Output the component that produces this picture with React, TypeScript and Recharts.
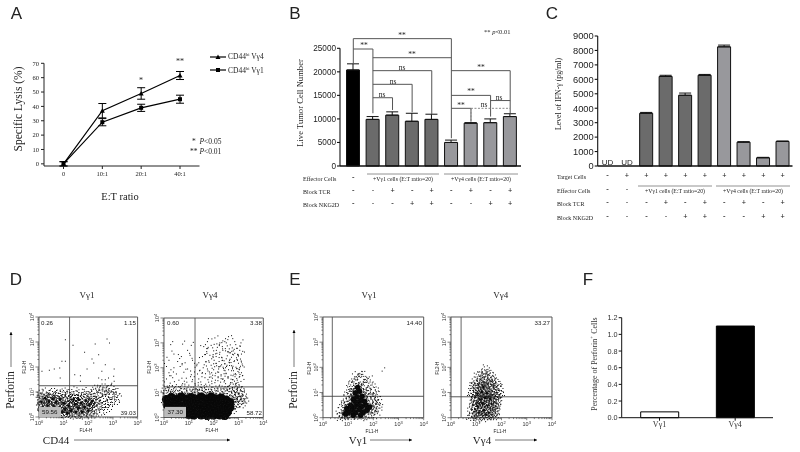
import React from "react";
import {
  ComposedChart, BarChart, ScatterChart, Line, Bar, Scatter, XAxis, YAxis, ErrorBar, Cell, Legend,
  ReferenceLine, ReferenceArea, ReferenceDot,
} from "recharts";

const SERIF = "'Liberation Serif', serif";
const SANS = "'Liberation Sans', sans-serif";

// Panel A
const ratios = ["0", "10:1", "20:1", "40:1"];
const lysisV4 = [0, 37, 49, 61.5];
const lysisV4Err = [1.5, 5, 4, 2.8];
const lysisV1 = [0, 29, 39, 45];
const lysisV1Err = [1.5, 2.5, 2.5, 2.8];
const lysisTicks = [0, 10, 20, 30, 40, 50, 60, 70];

// Panel B
const bCats = ["control", "a1", "a2", "a3", "a4", "b1", "b2", "b3", "b4"];
const bValues = [20400, 9900, 10800, 9500, 9900, 5000, 9100, 9200, 10500];
const bErrors = [1300, 600, 700, 1700, 1100, 500, 100, 800, 600];
const bEffector = ["-", "", "", "", "", "", "", "", ""];
const bTcr = ["-", "-", "+", "-", "+", "-", "+", "-", "+"];
const bNkg = ["-", "-", "-", "+", "+", "-", "-", "+", "+"];
const bTicks = [0, 5000, 10000, 15000, 20000, 25000];
// from, to, level, left drop end, right drop end
const bBrackets: [string, string, number, number | null, number | null][] = [
  ["control", "b1", 27050, 21800, 5900],
  ["control", "a1", 24850, null, 11200],
  ["a1", "b1", 23000, null, null],
  ["a1", "a4", 20250, null, 11000],
  ["a1", "a3", 17350, null, 11400],
  ["a1", "a2", 14500, null, 11900],
  ["b1", "b4", 20250, null, 11200],
  ["b1", "b3", 15000, null, 10500],
  ["b1", "b2", 12250, null, 9400],
  ["b3", "b4", 13900, null, null],
];
const bDashed: [string, string, number, number | null, number | null][] = [
  ["b2", "b4", 12250, 9400, null],
];

// Panel C
const cCats = ["t0", "t1", "a1", "a2", "a3", "a4", "b1", "b2", "b3", "b4"];
const cValues = [0, 0, 3650, 6200, 4900, 6280, 8250, 1650, 570, 1700];
const cErrors = [0, 0, 60, 80, 150, 60, 120, 30, 30, 30];
const cUndetected = ["t0", "t1"];
const cTarget = ["-", "+", "+", "+", "+", "+", "+", "+", "+", "+"];
const cEffector = ["-", "-", "", "", "", "", "", "", "", ""];
const cTcr = ["-", "-", "-", "+", "-", "+", "-", "+", "-", "+"];
const cNkg = ["-", "-", "-", "-", "+", "+", "-", "-", "+", "+"];
const cTicks = [0, 1000, 2000, 3000, 4000, 5000, 6000, 7000, 8000, 9000];

// Panel F
const fCats = ["Vγ1", "Vγ4"];
const fValues = [0.07, 1.1];
const fTicks = [0, 0.2, 0.4, 0.6, 0.8, 1.0, 1.2];

// Flow plots: log10 of fluorescence, estimated by eye
const logTicks = [0, 1, 2, 3, 4];
const d1Core = [
  [0.1,0.6],[0.25,0.75],[0.4,0.62],[0.55,0.72],[0.7,0.6],[0.85,0.7],[1.0,0.55],[0.15,0.4],[0.35,0.45],[0.6,0.42],
  [0.85,0.38],[1.05,0.3],[1.2,0.45],[1.3,0.25],[1.45,0.5],[1.5,0.2],[1.6,0.35],[1.7,0.55],[1.75,0.2],[1.85,0.4],
  [1.9,0.65],[2.0,0.25],[2.05,0.5],[1.6,0.7],[1.4,0.7],[2.15,0.62],[1.15,0.15],[0.95,0.18],
];
const d1Speckle = [
  [1.07,3.09],[1.38,2.87],[2.28,2.92],[2.76,3.12],[2.86,2.96],[1.85,2.59],[2.42,2.49],[2.15,2.32],[2.22,2.16],[0.93,2.23],
  [1.07,2.23],[2.69,2.09],[1.95,1.92],[3.05,1.92],[2.55,1.83],[0.12,1.83],[0.42,1.87],[0.62,1.92],[0.84,1.96],[1.45,1.69],
  [1.68,1.65],[2.42,1.56],[2.55,1.49],[2.69,1.49],[2.82,1.56],[3.03,1.63],[3.05,1.43],[0.86,1.56],[1.68,1.43],[2.95,1.35],
  [2.3,1.15],[2.45,1.08],[2.6,1.2],[2.72,1.05],[2.85,1.14],[3.0,1.1],[3.12,0.98],[2.25,0.95],[2.4,0.85],[2.55,0.95],
  [2.7,0.88],[2.85,0.93],[3.0,0.82],[3.18,0.8],[2.3,0.7],[2.48,0.66],[2.62,0.74],[2.78,0.66],[2.94,0.6],[3.1,0.62],
  [2.35,0.48],[2.52,0.42],[2.68,0.5],[2.82,0.38],[2.3,0.28],[2.46,0.2],[2.62,0.26],
  [2.2,0.12],[0.05,0.95],[0.3,1.0],[0.55,1.02],[0.78,0.96],[1.02,1.0],[1.25,0.98],
  [1.5,1.05],[1.72,0.95],[1.95,1.02],[2.1,0.9],[0.2,0.88],[0.45,0.9],[0.7,0.86],[0.95,0.9],[1.2,0.85],[1.45,0.88],
  [1.7,0.86],[1.95,0.84],[2.15,0.8],[0.12,0.22],[0.32,0.2],[1.0,0.72],[1.1,0.62],[1.25,0.58],[1.55,0.6],[1.8,0.08],
  [1.35,0.08],[1.62,0.06],[2.1,0.08],[0.05,0.75],[0.48,0.78],[0.78,0.82],[1.3,0.74],[2.28,0.58],[2.2,0.38],[2.12,0.2],
];
const d2Core = [
  [0.1,0.72],[0.3,0.8],[0.5,0.72],[0.7,0.82],[0.9,0.74],[1.1,0.8],[1.3,0.72],[1.5,0.82],[1.7,0.74],[1.9,0.82],
  [2.1,0.74],[2.3,0.78],[2.5,0.7],[2.65,0.6],[0.15,0.5],[0.4,0.52],[0.65,0.48],[0.9,0.5],[1.15,0.5],[1.4,0.52],
  [1.65,0.5],[1.9,0.52],[2.15,0.5],[2.4,0.48],[2.65,0.4],[0.9,0.28],[1.1,0.26],[1.35,0.28],[1.6,0.28],[1.85,0.26],
  [2.1,0.28],[2.35,0.26],[2.55,0.22],[1.2,0.1],[1.5,0.1],[1.75,0.08],[2.0,0.1],[2.25,0.1],[2.45,0.08],[1.0,0.12],
];
const d2Speckle = [
  [2.6,3.25],[2.05,3.2],[1.75,3.05],[2.25,3.0],[2.45,3.05],[2.85,3.05],[3.1,3.0],[1.6,2.85],[1.9,2.9],[2.15,2.82],
  [2.35,2.85],[2.55,2.88],[2.75,2.8],[2.95,2.78],[3.05,2.7],[1.72,2.65],[2.0,2.68],[2.25,2.62],[2.48,2.68],[2.68,2.6],
  [2.85,2.58],[3.12,2.55],[1.55,2.45],[1.85,2.5],[2.1,2.45],[2.32,2.42],[2.55,2.48],[2.72,2.42],[2.92,2.4],[3.08,2.35],
  [1.8,2.28],[2.02,2.3],[2.22,2.25],[2.42,2.28],[2.62,2.22],[2.82,2.25],[3.0,2.18],[3.15,2.15],[1.62,2.12],[1.9,2.1],
  [2.12,2.08],[2.32,2.12],[2.52,2.05],[2.72,2.08],[2.9,2.02],[3.05,2.0],[1.75,1.95],[2.0,1.92],[2.2,1.95],[2.42,1.9],
  [2.6,1.92],[2.8,1.88],[2.98,1.85],[3.12,1.8],[1.55,1.8],[1.85,1.75],[2.08,1.78],[2.3,1.72],[2.5,1.76],[2.7,1.7],
  [2.9,1.72],[3.05,1.65],[1.65,1.6],[1.95,1.58],[2.18,1.6],[2.38,1.55],[2.58,1.58],[2.78,1.52],[2.95,1.5],[3.1,1.45],
  [1.8,1.42],[2.05,1.4],[2.28,1.42],[2.48,1.36],[2.68,1.4],[2.88,1.34],[3.02,1.32],[0.35,3.05],[0.75,2.95],[1.1,2.9],
  [0.95,2.7],[0.4,2.55],[0.7,2.45],[1.05,2.5],[0.2,2.3],[0.55,2.25],[0.85,2.2],[1.15,2.3],[1.4,2.2],[0.1,2.05],
  [0.4,2.0],[0.65,2.05],[0.95,1.95],[1.25,2.02],[1.45,1.9],[0.2,1.8],[0.5,1.75],[0.8,1.82],[1.1,1.72],[1.35,1.75],
  [0.1,1.55],[0.35,1.6],[0.6,1.5],[0.9,1.58],[1.15,1.52],[1.4,1.55],[0.25,1.38],[0.5,1.32],[0.75,1.36],[1.0,1.3],
  [1.25,1.36],[1.5,1.32],[0.05,1.1],[0.3,1.12],[0.55,1.08],[0.8,1.14],[1.05,1.1],[1.3,1.14],[1.55,1.08],[1.8,1.14],
  [2.05,1.1],[2.3,1.14],[2.5,1.08],[2.75,1.18],[2.95,1.15],[3.1,1.08],[0.15,1.0],[0.45,0.98],[0.75,1.0],[1.0,0.98],
  [1.25,1.0],[1.5,0.98],[1.75,1.0],[2.0,1.0],[2.25,0.98],[2.5,0.96],[2.72,1.0],[2.85,0.92],[3.0,0.96],[3.2,0.9],
  [2.82,0.8],[2.95,0.78],[3.1,0.72],[3.25,0.7],[2.85,0.62],[3.0,0.6],[3.15,0.55],[2.82,0.44],
  [2.75,0.28],[0.55,0.28],[0.7,0.2],
];
const e1Core = [
  [1.0,0.2],[1.15,0.3],[1.3,0.2],[1.45,0.32],[1.6,0.22],[1.75,0.3],[0.95,0.36],[1.1,0.48],[1.25,0.42],[1.4,0.52],
  [1.55,0.45],[1.7,0.5],[1.85,0.42],[1.3,0.62],[1.5,0.68],[1.65,0.65],[1.2,0.72],[1.35,0.82],[1.55,0.85],[1.28,0.98],
  [1.45,1.05],[1.38,1.2],[0.9,0.15],[1.2,0.1],[1.5,0.1],
];
const e1Speckle = [
  [1.4,1.75],[1.25,1.62],[1.5,1.6],[1.35,1.5],[1.62,1.52],[1.18,1.42],[1.48,1.42],[1.72,1.4],[1.1,1.3],[1.22,1.28],
  [1.55,1.28],[1.78,1.25],[1.95,1.3],[1.02,1.12],[1.2,1.12],[1.6,1.15],[1.75,1.08],[1.92,1.12],[2.08,1.1],[0.98,0.98],
  [1.12,0.92],[1.65,0.98],[1.82,0.95],[2.0,0.98],[2.15,0.92],[0.92,0.78],[1.05,0.82],[1.75,0.8],[1.9,0.82],[2.05,0.78],
  [2.2,0.72],[0.85,0.62],[1.0,0.65],[1.85,0.66],[2.0,0.62],[2.12,0.58],[2.25,0.6],[0.78,0.48],[0.88,0.52],[2.0,0.45],
  [2.12,0.42],[2.22,0.38],[0.72,0.32],[0.82,0.3],[1.95,0.3],[2.08,0.28],[2.18,0.22],[0.68,0.18],[0.78,0.12],[1.9,0.14],
  [2.05,0.12],[0.65,0.05],[0.85,0.04],[1.1,0.03],[1.4,0.03],[1.7,0.04],[1.88,1.5],[1.58,1.72],
];
const e1Stray = [[2.35,1.85],[2.45,1.98]];
const e2Core = [
  [1.1,0.2],[1.3,0.3],[1.5,0.2],[1.05,0.45],[1.25,0.55],[1.45,0.48],[1.6,0.55],[1.15,0.72],[1.35,0.78],[1.55,0.75],
  [1.05,0.95],[1.22,1.02],[1.42,0.98],[1.28,1.22],[1.4,0.12],
];
const e2Speckle = [
  [1.4,1.9],[1.25,1.78],[1.5,1.72],[1.12,1.65],[1.35,1.62],[1.6,1.62],[1.0,1.5],[1.2,1.48],[1.42,1.5],[1.65,1.48],
  [1.78,1.4],[0.95,1.35],[1.1,1.32],[1.48,1.35],[1.62,1.3],[1.85,1.28],[0.9,1.2],[1.08,1.18],[1.5,1.18],[1.7,1.15],
  [1.9,1.12],[0.9,1.05],[1.62,1.08],[1.8,1.02],[0.85,0.92],[1.62,0.92],[1.75,0.88],[1.92,0.92],[0.92,0.8],[1.72,0.78],
  [1.85,0.72],[0.88,0.65],[1.0,0.62],[1.72,0.62],[1.85,0.58],[0.85,0.5],[0.95,0.35],[1.72,0.42],[1.82,0.38],[0.82,0.3],
  [1.68,0.3],[1.78,0.24],[0.85,0.18],[0.95,0.1],[1.62,0.12],[1.72,0.08],[0.82,0.05],[1.02,0.03],[1.25,0.04],[1.5,0.04],
  [1.2,0.12],[1.2,0.4],[1.38,0.64],[1.12,0.58],[1.5,0.88],[1.3,0.92],[1.15,0.85],[1.35,1.1],[1.2,1.3],[1.4,1.42],
];

const toXY = (pairs: number[][]) => pairs.map(([x, y]) => ({ x, y }));

type TProps = { x: number; y: number; children: React.ReactNode; size?: number; font?: string; rot?: boolean; anchor?: "c" | "l" | "r"; color?: string; bold?: boolean; bg?: string };
function T({ x, y, children, size = 7, font = SERIF, rot, anchor = "c", color = "#222", bold, bg }: TProps) {
  const tx = anchor === "c" ? "-50%" : anchor === "l" ? "0" : "-100%";
  return (
    <div style={{ position: "absolute", left: x, top: y, transform: `translate(${tx},-50%)${rot ? " rotate(-90deg)" : ""}`, fontSize: size, fontFamily: font, color, whiteSpace: "nowrap", lineHeight: 1, fontWeight: bold ? 700 : 400, background: bg }}>
      {children}
    </div>
  );
}

const pos = (left: number, top: number): React.CSSProperties => ({ position: "absolute", left, top });

function rowTick(rows: string[][], offsets: number[], cats: string[]) {
  return (p: any) => {
    const i = cats.indexOf(p.payload.value);
    return (
      <g>
        {rows.map((r, k) => (
          <text key={k} x={p.x} y={p.y + offsets[k]} textAnchor="middle" fontSize={7.5} fontWeight={700} fontFamily={SERIF} fill="#222">{r[i]}</text>
        ))}
      </g>
    );
  };
}

const Triangle = (p: any) => <path d={`M${p.cx - 2.5},${p.cy + 2} L${p.cx + 2.5},${p.cy + 2} L${p.cx},${p.cy - 2.5} Z`} fill="#000" />;
const Square = (p: any) => <rect x={p.cx - 2} y={p.cy - 2} width={4} height={4} fill="#000" />;

function bracketLines(list: typeof bBrackets, color: string, dash?: string) {
  const out: React.ReactNode[] = [];
  list.forEach(([a, b, lv, dl, dr], i) => {
    out.push(<ReferenceLine key={`${dash}h${i}`} ifOverflow="visible" stroke={color} strokeWidth={1} strokeDasharray={dash} segment={[{ x: a, y: lv }, { x: b, y: lv }]} />);
    if (dl !== null) out.push(<ReferenceLine key={`${dash}l${i}`} ifOverflow="visible" stroke={color} strokeWidth={1} strokeDasharray={dash} segment={[{ x: a, y: lv }, { x: a, y: dl }]} />);
    if (dr !== null) out.push(<ReferenceLine key={`${dash}r${i}`} ifOverflow="visible" stroke={color} strokeWidth={1} strokeDasharray={dash} segment={[{ x: b, y: lv }, { x: b, y: dr }]} />);
  });
  return out;
}

const LegendBox = (p: any) => (
  <div style={{ fontFamily: SERIF, fontSize: 7.5, color: "#222" }}>
    {(p.payload || []).map((e: any, i: number) => {
      const [a, b] = String(e.value).split("hi");
      return (
        <div key={i} style={{ display: "flex", alignItems: "center", height: 13.5 }}>
          <svg width={17} height={8} style={{ marginRight: 1 }}>
            <line x1={0} x2={16} y1={4} y2={4} stroke="#000" strokeWidth={1.2} />
            {i === 0 ? <path d="M5.5,6 L10.5,6 L8,1.5 Z" fill="#000" /> : <rect x={6} y={2} width={4} height={4} fill="#000" />}
          </svg>
          <span>{a}<sup style={{ fontSize: 4.5, lineHeight: 0 }}>hi</sup>{b}</span>
        </div>
      );
    })}
  </div>
);

function LogTick(props: any) {
  const { x, y, payload, vertical, decade } = props;
  const v = payload.value;
  const minors = v < 4 ? [2, 3, 4, 5, 6, 7, 8, 9] : [];
  if (vertical) {
    return (
      <g stroke="#333" strokeWidth={0.6}>
        <line x1={x - 3.5} x2={x} y1={y} y2={y} />
        {minors.map((m) => <line key={m} x1={x - 1.6} x2={x} y1={y - Math.log10(m) * decade} y2={y - Math.log10(m) * decade} />)}
        <text x={0} y={0} transform={`translate(${x - 5},${y}) rotate(-90)`} textAnchor="middle" fontSize={5.5} fontFamily={SANS} fill="#333" stroke="none">
          10<tspan dy={-2} fontSize={4}>{v}</tspan>
        </text>
      </g>
    );
  }
  return (
    <g stroke="#333" strokeWidth={0.6}>
      <line x1={x} x2={x} y1={y} y2={y + 2.5} />
      {minors.map((m) => <line key={m} x1={x + Math.log10(m) * decade} x2={x + Math.log10(m) * decade} y1={y} y2={y + 1.4} />)}
      <text x={x} y={y + 8} textAnchor="middle" fontSize={5.5} fontFamily={SANS} fill="#333" stroke="none">
        10<tspan dy={-2} fontSize={4}>{v}</tspan>
      </text>
    </g>
  );
}

// one plotted estimate stands for a small group of events, drawn as a stipple of single pixels
const stipple = [
  [0,0],[3,-2],[-3,1],[-1,3],[2,3],[-4,-2],[1,-4],[4,1],[-2,-4],[-5,1],[5,-3],[-1,-1],
  [2,0],[-3,4],[4,4],[0,-2],[-2,2],[3,-5],[-5,-4],[1,2],[-4,3],[5,2],[-1,5],[2,-3],
];
const glyph = (n: number, r = 0) => (p: any) => {
  const s = (Math.round(p.cx * 3) + Math.round(p.cy * 5)) % 8;
  const fx = s & 1 ? -1 : 1, fy = s & 2 ? -1 : 1, swap = s & 4;
  return (
    <g fill="#111">
      {r > 0 && <circle cx={p.cx} cy={p.cy} r={r} fill="#080808" />}
      {stipple.slice(0, n).map(([a, b], i) => (
        <rect key={i} x={p.cx + fx * (swap ? b : a) - 0.5} y={p.cy + fy * (swap ? a : b) - 0.5} width={1} height={1} />
      ))}
    </g>
  );
};

type FlowProps = { x0: number; x1: number; y0: number; y1: number; gateX: number; gateY: number; core: number[][]; speckle: number[][]; stray?: number[][]; coreN: number; coreR: number; lowN: number; highN: number; sparseX?: number };
function Flow({ x0, x1, y0, y1, gateX, gateY, core, speckle, stray = [], coreN, coreR, lowN, highN, sparseX = 0 }: FlowProps) {
  const w = x1 - x0, h = y1 - y0;
  return (
    <div style={pos(x0 - 24, y0 - 4)}>
      <ScatterChart width={w + 30} height={h + 16} margin={{ top: 4, right: 6, left: 0, bottom: 0 }}>
        <XAxis type="number" dataKey="x" domain={[0, 4]} ticks={logTicks} height={12} tickLine={false} axisLine={false} tickSize={0} tickMargin={0} interval={0} tick={<LogTick decade={w / 4} />} />
        <YAxis type="number" dataKey="y" domain={[0, 4]} ticks={logTicks} width={24} tickLine={false} axisLine={false} tickSize={0} tickMargin={0} interval={0} tick={<LogTick vertical decade={h / 4} />} />
        <ReferenceArea x1={0} x2={4} y1={0} y2={4} fill="none" stroke="#555" strokeWidth={1} ifOverflow="visible" />
        <Scatter data={toXY(speckle.filter((p) => p[1] <= 1.22))} shape={glyph(lowN)} isAnimationActive={false} />
        <Scatter data={toXY(speckle.filter((p) => p[1] > 1.22 && p[0] >= sparseX))} shape={glyph(highN)} isAnimationActive={false} />
        <Scatter data={toXY(speckle.filter((p) => p[1] > 1.22 && p[0] < sparseX))} shape={glyph(2)} isAnimationActive={false} />
        <Scatter data={toXY(stray)} shape={glyph(1)} isAnimationActive={false} />
        <Scatter data={toXY(core)} shape={glyph(coreN, coreR)} isAnimationActive={false} />
        <ReferenceLine x={gateX} stroke="#555" strokeWidth={0.9} />
        <ReferenceLine y={gateY} stroke="#444" strokeWidth={0.9} />
      </ScatterChart>
    </div>
  );
}

const Arrow = ({ x1, y1, x2, y2 }: { x1: number; y1: number; x2: number; y2: number }) => {
  const vertical = x1 === x2;
  const head = vertical ? `${x2 - 1.5},${y2 + 3} ${x2 + 1.5},${y2 + 3} ${x2},${y2}` : `${x2 - 3},${y2 - 1.5} ${x2 - 3},${y2 + 1.5} ${x2},${y2}`;
  return (
    <g>
      <line x1={x1} y1={y1} x2={x2} y2={y2} stroke="#555" strokeWidth={0.8} />
      <polygon points={head} fill="#000" />
    </g>
  );
};

export default function App() {
  const aData = ratios.map((r, i) => ({ r, v4: lysisV4[i], e4: lysisV4Err[i], v1: lysisV1[i], e1: lysisV1Err[i] }));
  const bData = bCats.map((c, i) => ({ c, v: bValues[i], err: [0, bErrors[i]] }));
  const cData = cCats.map((c, i) => ({ c, v: cValues[i], err: [0, cErrors[i]] }));
  const fData = fCats.map((c, i) => ({ c, v: fValues[i] }));
  const bFill = (i: number) => (i === 0 ? "#000" : i < 5 ? "#6b6b6b" : "#98989c");
  const cFill = (i: number) => (i < 6 ? "#6b6b6b" : "#98989c");

  return (
    <div style={{ position: "absolute", left: 0, top: 0, width: 800, height: 452, background: "#fff", overflow: "hidden", filter: "blur(0.3px)" }}>
      {/* A */}
      <div style={pos(14, 50)}>
        <ComposedChart width={260} height={136} data={aData} margin={{ top: 13.3, right: 74.5, left: 0, bottom: 0 }}>
          <XAxis dataKey="r" height={20} padding={{ left: 19.5, right: 19.5 }} tick={{ fontSize: 6.5, fontFamily: SERIF, fill: "#222" }} tickSize={3} tickMargin={2} stroke="#222" interval={0} />
          <YAxis domain={[0, 70]} ticks={lysisTicks} width={30} interval={0} tick={{ fontSize: 6.5, fontFamily: SERIF, fill: "#222" }} tickSize={3} tickMargin={2} stroke="#222" />
          <Legend layout="vertical" align="center" verticalAlign="middle" itemSorter={null} content={<LegendBox />} wrapperStyle={{ left: 196, top: 0, width: 90 }} />
          <Line dataKey="v4" name="CD44hi Vγ4" stroke="#000" strokeWidth={1.2} dot={<Triangle />} isAnimationActive={false}>
            <ErrorBar dataKey="e4" width={4} stroke="#000" strokeWidth={1} />
          </Line>
          <Line dataKey="v1" name="CD44hi Vγ1" stroke="#000" strokeWidth={1.2} dot={<Square />} isAnimationActive={false}>
            <ErrorBar dataKey="e1" width={4} stroke="#000" strokeWidth={1} />
          </Line>
        </ComposedChart>
      </div>

      {/* B */}
      <div style={pos(300, 10)}>
        <BarChart width={231} height={205} data={bData} margin={{ top: 38.3, right: 10, left: 0, bottom: 0 }} barSize={13}>
          <XAxis dataKey="c" height={49} padding={{ left: 3.5, right: 1 }} tickLine={false} tickSize={0} tickMargin={0} interval={0} stroke="#111" strokeWidth={1.3} tick={rowTick([bEffector, bTcr, bNkg], [14, 27, 40], bCats)} />
          <YAxis domain={[0, 25000]} ticks={bTicks} width={40} interval={0} tick={{ fontSize: 8.2, fontFamily: SANS, fill: "#222" }} tickSize={3} tickMargin={1} stroke="#111" strokeWidth={1.1} />
          <Bar dataKey="v" stroke="#111" strokeWidth={1} isAnimationActive={false}>
            {bData.map((_, i) => <Cell key={i} fill={bFill(i)} />)}
            <ErrorBar dataKey="err" width={6} stroke="#111" strokeWidth={1} />
          </Bar>
          {bracketLines(bBrackets, "#555")}
          {bracketLines(bDashed, "#888", "2 1.5")}
        </BarChart>
      </div>

      {/* C */}
      <div style={pos(560, 20)}>
        <BarChart width={236} height={205} data={cData} margin={{ top: 16, right: 3.5, left: 0, bottom: 0 }} barSize={13}>
          <XAxis dataKey="c" height={59} tickLine={false} tickSize={0} tickMargin={0} interval={0} stroke="#111" strokeWidth={1.3} tick={rowTick([cTarget, cEffector, cTcr, cNkg], [12, 26, 39, 53], cCats)} />
          <YAxis domain={[0, 9000]} ticks={cTicks} width={37.7} interval={0} tick={{ fontSize: 9.3, fontFamily: SANS, fill: "#222" }} tickSize={3} tickMargin={1} stroke="#111" strokeWidth={1.1} />
          <Bar dataKey="v" stroke="#111" strokeWidth={1} isAnimationActive={false}>
            {cData.map((_, i) => <Cell key={i} fill={cFill(i)} />)}
            <ErrorBar dataKey="err" width={6} stroke="#111" strokeWidth={1} />
          </Bar>
          {cUndetected.map((c) => (
            <ReferenceDot key={c} x={c} y={0} r={0} ifOverflow="visible" stroke="none" label={{ value: "UD", position: "top", offset: 1, fontSize: 8, fontFamily: SANS, fill: "#222" }} />
          ))}
        </BarChart>
      </div>

      {/* F */}
      <div style={pos(590, 310)}>
        <BarChart width={185} height={125} data={fData} margin={{ top: 7.7, right: 2, left: 0, bottom: 0 }} barSize={38}>
          <XAxis dataKey="c" height={17.3} tick={{ fontSize: 8, fontFamily: SERIF, fill: "#333" }} tickSize={3} tickMargin={1} stroke="#111" />
          <YAxis domain={[0, 1.2]} ticks={fTicks} width={31.7} interval={0} tickFormatter={(v: number) => v.toFixed(1)} tick={{ fontSize: 7.3, fontFamily: SANS, fill: "#333" }} tickSize={3} tickMargin={1} stroke="#111" />
          <Bar dataKey="v" stroke="#000" strokeWidth={1} isAnimationActive={false}>
            <Cell fill="#fff" />
            <Cell fill="#000" />
          </Bar>
        </BarChart>
      </div>

      {/* Flow plots */}
      <Flow x0={38.7} x1={137.3} y0={317.3} y1={417.3} gateX={1.24} gateY={1.25} core={d1Core} speckle={d1Speckle} coreN={24} coreR={1.4} lowN={8} highN={1} />
      <Flow x0={164} x1={263.3} y0={317.8} y1={417.3} gateX={1.25} gateY={1.23} core={d2Core} speckle={d2Speckle} coreN={12} coreR={4.6} lowN={10} highN={3} sparseX={1.5} />
      <Flow x0={323.3} x1={424} y0={317.3} y1={418} gateX={0.37} gateY={0.85} core={e1Core} speckle={e1Speckle} stray={e1Stray} coreN={16} coreR={2.8} lowN={6} highN={6} />
      <Flow x0={450.7} x1={551.7} y0={317.3} y1={418} gateX={0.4} gateY={0.83} core={e2Core} speckle={e2Speckle} coreN={24} coreR={1.2} lowN={12} highN={12} />

      {/* annotation lines */}
      <svg width={800} height={452} style={{ position: "absolute", left: 0, top: 0, pointerEvents: "none" }}>
        <line x1={367} x2={439} y1={174} y2={174} stroke="#777" strokeWidth={0.8} />
        <line x1={444} x2={518} y1={174} y2={174} stroke="#777" strokeWidth={0.8} />
        <line x1={638} x2={712} y1={186} y2={186} stroke="#777" strokeWidth={0.8} />
        <line x1={716} x2={790} y1={186} y2={186} stroke="#777" strokeWidth={0.8} />
        <Arrow x1={11} y1={367} x2={11} y2={332} />
        <Arrow x1={74} y1={440} x2={230} y2={440} />
        <Arrow x1={294} y1={367} x2={294} y2={330} />
        <Arrow x1={370} y1={440} x2={412} y2={440} />
        <Arrow x1={495} y1={440} x2={537} y2={440} />
      </svg>

      {/* panel letters */}
      <T x={16.5} y={13} size={17} font={SANS}>A</T>
      <T x={295} y={13} size={17} font={SANS}>B</T>
      <T x={552} y={13} size={17} font={SANS}>C</T>
      <T x={16} y={279} size={17} font={SANS}>D</T>
      <T x={295} y={279} size={17} font={SANS}>E</T>
      <T x={588} y={279} size={17} font={SANS}>F</T>

      {/* A text */}
      <T x={19} y={109} size={11.5} rot>Specific Lysis (%)</T>
      <T x={120} y={197} size={10.5}>E:T ratio</T>
      <T x={141} y={81} size={8}>*</T>
      <T x={180} y={62} size={8}>**</T>
      <T x={192} y={142} size={7.5} anchor="l">*&nbsp;&nbsp;<i>P</i>&lt;0.05</T>
      <T x={190} y={152} size={7.5} anchor="l">**&nbsp;<i>P</i>&lt;0.01</T>

      {/* B text */}
      <T x={300} y={103} size={8.6} rot>Live Tumor Cell Number</T>
      <T x={484} y={32} size={6.5} anchor="l">** <i>p</i>&lt;0.01</T>
      <T x={402} y={36} size={7.5}>**</T>
      <T x={364} y={46} size={7.5}>**</T>
      <T x={412} y={55} size={7.5}>**</T>
      <T x={402} y={68} size={7.5}>ns</T>
      <T x={393} y={82} size={7.5}>ns</T>
      <T x={382} y={95} size={7.5}>ns</T>
      <T x={481} y={68} size={7.5}>**</T>
      <T x={471} y={92} size={7.5}>**</T>
      <T x={461} y={106} size={7.5}>**</T>
      <T x={484} y={105} size={7.5}>ns</T>
      <T x={499} y={98} size={7.5}>ns</T>
      <T x={303} y={179} size={6} anchor="l">Effector Cells</T>
      <T x={303} y={192} size={6} anchor="l">Block TCR</T>
      <T x={303} y={205} size={6} anchor="l">Block NKG2D</T>
      <T x={403} y={180} size={5.8}>+Vγ1 cells (E:T ratio=20)</T>
      <T x={481} y={180} size={5.8}>+Vγ4 cells (E:T ratio=20)</T>

      {/* C text */}
      <T x={559} y={94} size={7.8} rot>Level of IFN-γ (pg/ml)</T>
      <T x={557} y={177} size={6} anchor="l">Target Cells</T>
      <T x={557} y={191} size={6} anchor="l">Effector Cells</T>
      <T x={557} y={204} size={6} anchor="l">Block TCR</T>
      <T x={557} y={218} size={6} anchor="l">Block NKG2D</T>
      <T x={675} y={192} size={5.8}>+Vγ1 cells (E:T ratio=20)</T>
      <T x={753} y={192} size={5.8}>+Vγ4 cells (E:T ratio=20)</T>

      {/* D text */}
      <T x={87} y={295} size={9}>Vγ1</T>
      <T x={210} y={295} size={9}>Vγ4</T>
      <T x={11} y={390} size={11.5} rot>Perforin</T>
      <T x={56} y={440} size={11}>CD44</T>
      <T x={25} y={367} size={4.6} font={SANS} rot>FL2-H</T>
      <T x={150} y={367} size={4.6} font={SANS} rot>FL2-H</T>
      <T x={86} y={431} size={4.6} font={SANS}>FL4-H</T>
      <T x={212} y={431} size={4.6} font={SANS}>FL4-H</T>
      <T x={41} y={323} size={6.2} font={SANS} anchor="l">0.26</T>
      <T x={136} y={323} size={6.2} font={SANS} anchor="r">1.15</T>
      <T x={136} y={413} size={6.2} font={SANS} anchor="r">39.03</T>
      <T x={39} y={412} size={6.2} font={SANS} anchor="l" bg="#bcbcbc" color="#111"><span style={{ display: "inline-block", padding: "2px 3.5px 2px 3px" }}>59.56</span></T>
      <T x={167} y={323} size={6.2} font={SANS} anchor="l">0.60</T>
      <T x={262} y={323} size={6.2} font={SANS} anchor="r">3.38</T>
      <T x={262} y={413} size={6.2} font={SANS} anchor="r">58.72</T>
      <T x={164.5} y={412} size={6.2} font={SANS} anchor="l" bg="#bcbcbc" color="#111"><span style={{ display: "inline-block", padding: "2px 3.5px 2px 3px" }}>37.30</span></T>

      {/* E text */}
      <T x={294} y={390} size={11.5} rot>Perforin</T>
      <T x={369} y={295} size={9}>Vγ1</T>
      <T x={500.7} y={295} size={9}>Vγ4</T>
      <T x={358} y={440} size={11}>Vγ1</T>
      <T x={482} y={440} size={11}>Vγ4</T>
      <T x={310} y={368} size={4.6} font={SANS} rot>FL2-H</T>
      <T x={438} y={368} size={4.6} font={SANS} rot>FL2-H</T>
      <T x={372} y={431.5} size={4.6} font={SANS}>FL1-H</T>
      <T x={500} y={431.5} size={4.6} font={SANS}>FL1-H</T>
      <T x={422} y={323} size={6.2} font={SANS} anchor="r">14.40</T>
      <T x={550} y={323} size={6.2} font={SANS} anchor="r">33.27</T>

      {/* F text */}
      <T x={595} y={364} size={8} rot color="#333">Percentage of Perforin<sup style={{ fontSize: 5, lineHeight: 0 }}>+</sup> Cells</T>
    </div>
  );
}
